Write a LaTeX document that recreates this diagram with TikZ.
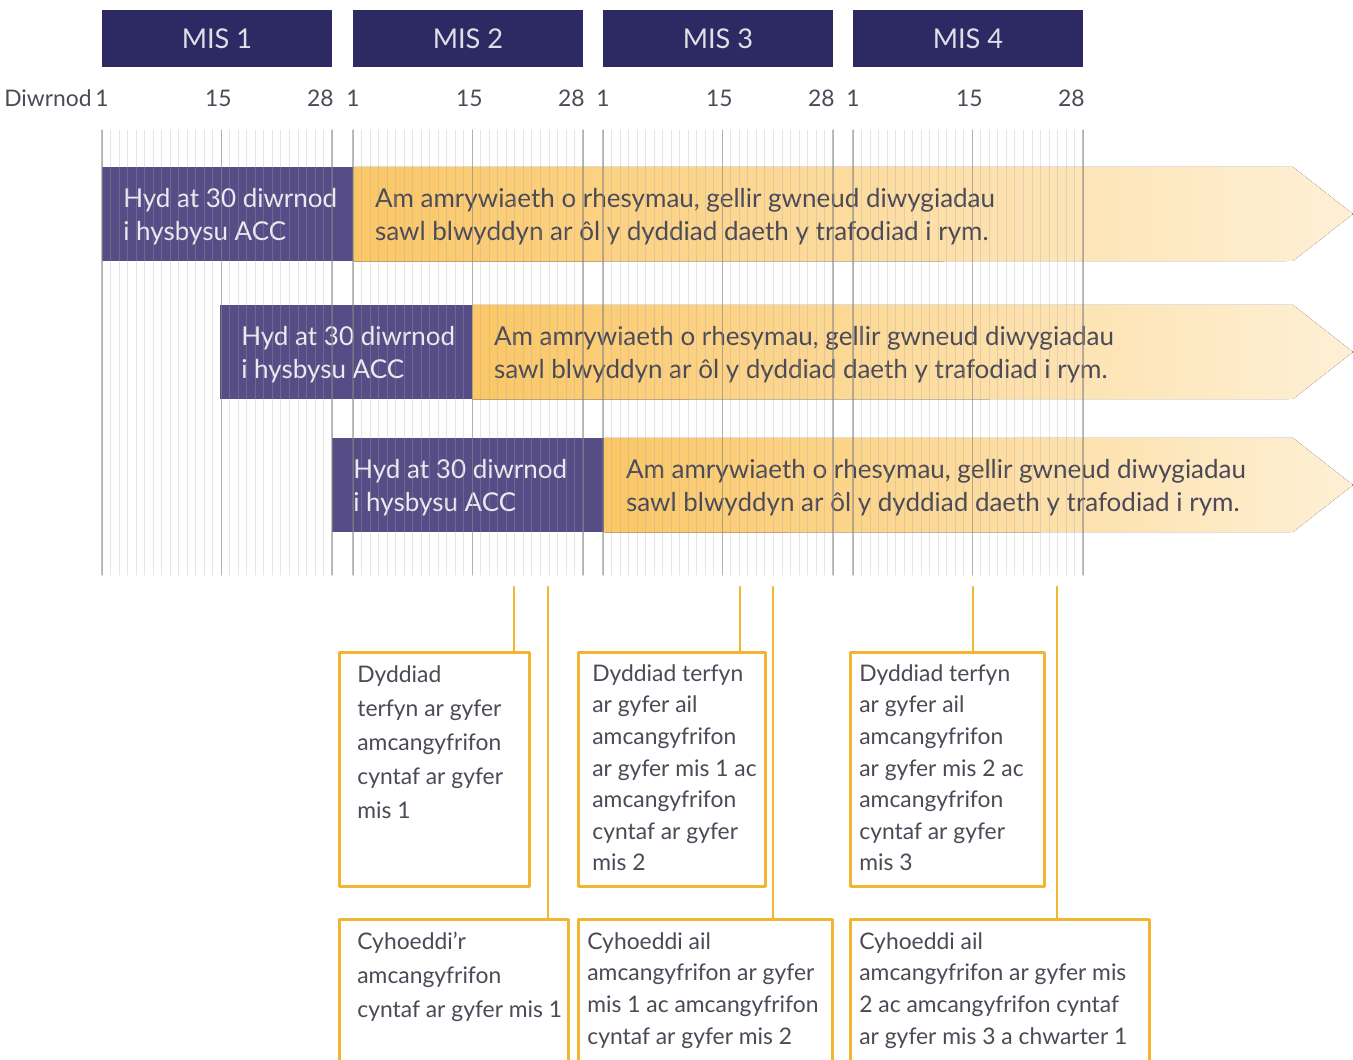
\documentclass[tikz,border=0pt]{standalone}
\usepackage{fontspec}
\setmainfont{Lato}
\usetikzlibrary{positioning}

\definecolor{misblue}{HTML}{2C2963}
\definecolor{accpurple}{HTML}{574D86}
\definecolor{amberA}{HTML}{FBC766}
\definecolor{amberB}{HTML}{FEF0D6}
\definecolor{gold}{HTML}{F2B531}
\definecolor{inkgrey}{HTML}{4B4A56}

\tikzset{
  misbox/.style={fill=misblue, minimum width=4.6cm, minimum height=1.14cm, inner sep=0pt,
    text=white!85!misblue, font=\fontsize{15.5}{18}\selectfont},
  daylbl/.style={text=inkgrey, font=\fontsize{13}{15}\selectfont, inner sep=0pt},
  accbox/.style={fill=accpurple, minimum height=1.88cm, anchor=north west, inner sep=0pt},
  acctext/.style={text=white!88!accpurple, align=left, anchor=west, inner sep=0pt,
    font=\fontsize{14.8}{18.8}\selectfont},
  ambertext/.style={text=inkgrey, align=left, anchor=west, inner sep=0pt,
    font=\fontsize{14.8}{18.8}\selectfont},
  minorln/.style={black!35, opacity=0.3, line width=0.45pt},
  majorln/.style={black!50, opacity=0.5, line width=0.6pt},
  link/.style={gold, line width=1.2pt},
  notebox/.style={draw=gold, line width=1.5pt, fill=white, anchor=north west, inner sep=0pt},
  notetext/.style={text=inkgrey, align=left, anchor=north west, inner sep=0pt,
    font=\fontsize{13}{18}\selectfont},
  widetext/.style={notetext, font=\fontsize{13}{19.4}\selectfont}
}

\begin{document}
\begin{tikzpicture}[x=0.02cm,y=-0.02cm,line cap=round,line join=round]
  \useasboundingbox (0,0) rectangle (1353,1060);
  \clip (0,0) rectangle (1353,1060);

  % months
  \foreach \s [count=\m] in {102,353,603,853}{
    \node[misbox] (mis\m) at (\s+115,38.5) {MIS \m};
    \node[daylbl, anchor=base] at (\s,107) {1};
    \node[daylbl, anchor=base] at (\s+14*230/27-3,107) {15};
    \node[daylbl, anchor=base east] at (\s+232,107) {28};
  }
  \node[daylbl, anchor=base east] (day) at (92,107) {Diwrnod};

  % rows
  \foreach \r/\x/\y/\w in {1/102/167/5.02cm,2/220/305/5.04cm,3/332/438/5.44cm}{
    \node[accbox, minimum width=\w] (acc\r) at (\x,\y) {};
    \fill[left color=amberA, middle color=amberA!75!amberB, right color=amberB]
      (acc\r.north east) -- (1293,\y) -- (1353,\y+47) -- (1293,\y+94) -- (acc\r.south east) -- cycle;
    \node[acctext] (hyd\r) at ([xshift=0.42cm,yshift=-0.04cm]acc\r.west) {Hyd at 30 diwrnod\\i hysbysu ACC};
    \node[ambertext] (am\r) at ([xshift=0.42cm,yshift=-0.04cm]acc\r.east)
      {Am amrywiaeth o rhesymau, gellir gwneud diwygiadau\\sawl blwyddyn ar ôl y dyddiad daeth y trafodiad i rym.};
  }

  % day grid
  \foreach \s in {102,353,603,853}{
    \foreach \d in {1,...,28}{
      \draw[minorln] ({\s+(\d-1)*230/27},130) -- ++(0,445);
    }
    \foreach \d in {1,15,28}{
      \draw[majorln] ({\s+(\d-1)*230/27},130) -- ++(0,445);
    }
  }

  % deadline boxes
  \node[notebox, minimum width=3.8cm, minimum height=4.68cm] (due1) at (338,651) {};
  \node[notebox, minimum width=3.74cm, minimum height=4.68cm] (due2) at (577,651) {};
  \node[notebox, minimum width=3.88cm, minimum height=4.68cm] (due3) at (849,651) {};
  \node[widetext] at ([xshift=0.38cm,yshift=-0.28cm]due1.north west)
    {Dyddiad\\terfyn ar gyfer\\amcangyfrifon\\cyntaf ar gyfer\\mis 1};
  \node[notetext] at ([xshift=0.3cm,yshift=-0.26cm]due2.north west)
    {Dyddiad terfyn\\ar gyfer ail\\amcangyfrifon\\ar gyfer mis 1 ac\\amcangyfrifon\\cyntaf ar gyfer\\mis 2};
  \node[notetext] at ([xshift=0.2cm,yshift=-0.26cm]due3.north west)
    {Dyddiad terfyn\\ar gyfer ail\\amcangyfrifon\\ar gyfer mis 2 ac\\amcangyfrifon\\cyntaf ar gyfer\\mis 3};

  % publication boxes
  \node[notebox, minimum width=4.58cm, minimum height=4cm] (pub1) at (338,918) {};
  \node[notebox, minimum width=5.08cm, minimum height=4cm] (pub2) at (577,918) {};
  \node[notebox, minimum width=5.98cm, minimum height=4cm] (pub3) at (849,918) {};
  \node[widetext] at ([xshift=0.38cm,yshift=-0.28cm]pub1.north west)
    {Cyhoeddi'r\\amcangyfrifon\\cyntaf ar gyfer mis 1};
  \node[notetext] at ([xshift=0.2cm,yshift=-0.28cm]pub2.north west)
    {Cyhoeddi ail\\amcangyfrifon ar gyfer\\mis 1 ac amcangyfrifon\\cyntaf ar gyfer mis 2};
  \node[notetext] at ([xshift=0.2cm,yshift=-0.28cm]pub3.north west)
    {Cyhoeddi ail\\amcangyfrifon ar gyfer mis\\2 ac amcangyfrifon cyntaf\\ar gyfer mis 3 a chwarter 1};

  % connectors
  \coordinate (t1) at (514,587);
  \coordinate (t2) at (548,587);
  \coordinate (t3) at (740,587);
  \coordinate (t4) at (773,587);
  \coordinate (t5) at (973,587);
  \coordinate (t6) at (1057,587);
  \draw[link] (t1) -- (t1 |- due1.north);
  \draw[link] (t2) -- (t2 |- pub1.north);
  \draw[link] (t3) -- (t3 |- due2.north);
  \draw[link] (t4) -- (t4 |- pub2.north);
  \draw[link] (t5) -- (t5 |- due3.north);
  \draw[link] (t6) -- (t6 |- pub3.north);
\end{tikzpicture}
\end{document}
